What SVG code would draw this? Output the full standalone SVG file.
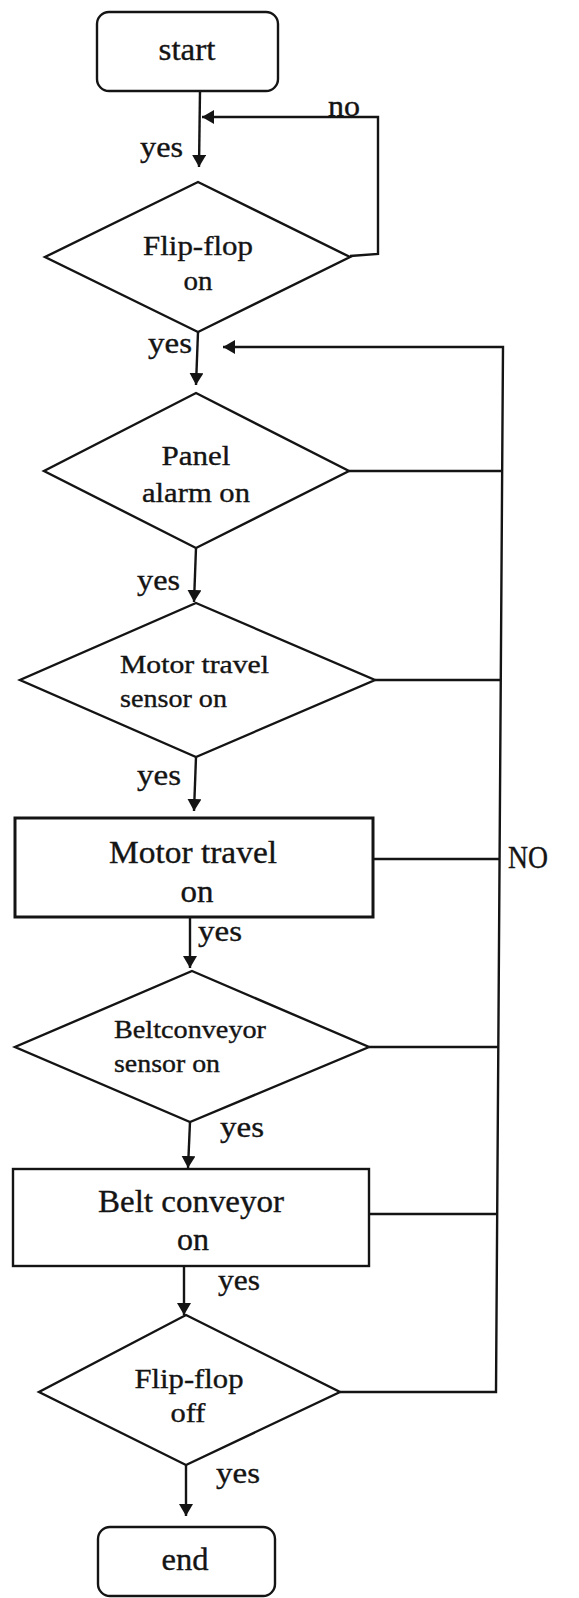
<svg xmlns="http://www.w3.org/2000/svg" width="579" height="1598" viewBox="0 0 579 1598">
  <defs>
    <style>
      .shape { fill: #ffffff; stroke: #141414; stroke-width: 2.4; stroke-linejoin: miter; }
      .box { stroke-width: 3; }
      .conn { fill: none; stroke: #141414; stroke-width: 2.4; }
      .t { font-family: "Liberation Serif", "Times New Roman", serif; fill: #141414; stroke: #141414; stroke-width: 0.35; }
      .lbl { font-size: 28px; }
      .big { font-size: 32px; }
      .yes { font-size: 30px; }
      .sm { font-size: 25px; }
      .mid { text-anchor: middle; }
    </style>
    <marker id="arrow" viewBox="0 0 12 14" refX="12" refY="7" markerWidth="12" markerHeight="14" markerUnits="userSpaceOnUse" orient="auto">
      <path d="M0,0 L12,7 L0,14 z" fill="#141414"/>
    </marker>
  </defs>

  <rect width="579" height="1598" fill="#ffffff"/>

  <!-- connectors -->
  <g id="connectors">
    <line class="conn" x1="200" y1="91" x2="199" y2="167" marker-end="url(#arrow)"/>
    <polyline class="conn" points="350,256 378,254 378,117 202,117" marker-end="url(#arrow)"/>
    <line class="conn" x1="198" y1="332" x2="196" y2="385" marker-end="url(#arrow)"/>
    <polyline class="conn" points="340,1392 496,1392 503,347 223,347" marker-end="url(#arrow)"/>
    <line class="conn" x1="349" y1="471" x2="502" y2="471"/>
    <line class="conn" x1="375" y1="680" x2="501" y2="680"/>
    <line class="conn" x1="374" y1="859" x2="500" y2="859"/>
    <line class="conn" x1="369" y1="1047" x2="498" y2="1047"/>
    <line class="conn" x1="369" y1="1214" x2="497" y2="1214"/>
    <line class="conn" x1="196" y1="548" x2="194" y2="602" marker-end="url(#arrow)"/>
    <line class="conn" x1="196" y1="757" x2="194" y2="811" marker-end="url(#arrow)"/>
    <line class="conn" x1="190" y1="917" x2="190" y2="968" marker-end="url(#arrow)"/>
    <line class="conn" x1="190" y1="1122" x2="188" y2="1168" marker-end="url(#arrow)"/>
    <line class="conn" x1="184" y1="1266" x2="184" y2="1315" marker-end="url(#arrow)"/>
    <line class="conn" x1="186" y1="1465" x2="186" y2="1516" marker-end="url(#arrow)"/>
  </g>

  <!-- branch labels -->
  <g id="labels">
    <text class="t yes" x="140" y="157" textLength="43" lengthAdjust="spacingAndGlyphs">yes</text>
    <text class="t yes" x="328" y="116" textLength="32" lengthAdjust="spacingAndGlyphs">no</text>
    <text class="t yes" x="148" y="353" textLength="44" lengthAdjust="spacingAndGlyphs">yes</text>
    <text class="t yes" x="137" y="590" textLength="43" lengthAdjust="spacingAndGlyphs">yes</text>
    <text class="t yes" x="137" y="785" textLength="44" lengthAdjust="spacingAndGlyphs">yes</text>
    <text class="t yes" x="198" y="941" textLength="44" lengthAdjust="spacingAndGlyphs">yes</text>
    <text class="t yes" x="220" y="1137" textLength="44" lengthAdjust="spacingAndGlyphs">yes</text>
    <text class="t yes" x="218" y="1290" textLength="42" lengthAdjust="spacingAndGlyphs">yes</text>
    <text class="t yes" x="216" y="1483" textLength="44" lengthAdjust="spacingAndGlyphs">yes</text>
    <text class="t big" x="508" y="868" textLength="40" lengthAdjust="spacingAndGlyphs">NO</text>
  </g>

  <g id="start">
    <rect class="shape" x="97" y="12" width="181" height="79" rx="12"/>
    <text class="t big mid" x="187" y="60" textLength="57" lengthAdjust="spacingAndGlyphs">start</text>
  </g>

  <g id="flipflop-on">
    <polygon class="shape" points="198,182 350,257 198,332 45,257"/>
    <text class="t lbl mid" x="198" y="255" textLength="110" lengthAdjust="spacingAndGlyphs">Flip-flop</text>
    <text class="t lbl mid" x="198" y="290" textLength="29" lengthAdjust="spacingAndGlyphs">on</text>
  </g>

  <g id="panel-alarm">
    <polygon class="shape" points="196,393 349,471 196,548 44,471"/>
    <text class="t lbl mid" x="196" y="465" textLength="69" lengthAdjust="spacingAndGlyphs">Panel</text>
    <text class="t lbl mid" x="196" y="502" textLength="108" lengthAdjust="spacingAndGlyphs">alarm on</text>
  </g>

  <g id="motor-sensor">
    <polygon class="shape" points="196,603 375,680 196,757 20,680"/>
    <text class="t sm" x="120" y="673" textLength="149" lengthAdjust="spacingAndGlyphs">Motor travel</text>
    <text class="t sm" x="120" y="707" textLength="107" lengthAdjust="spacingAndGlyphs">sensor on</text>
  </g>

  <g id="motor-travel">
    <rect class="shape box" x="15" y="818" width="358" height="99"/>
    <text class="t big mid" x="193" y="863" textLength="168" lengthAdjust="spacingAndGlyphs">Motor travel</text>
    <text class="t big mid" x="197" y="902" textLength="33" lengthAdjust="spacingAndGlyphs">on</text>
  </g>

  <g id="belt-sensor">
    <polygon class="shape" points="192,971 369,1047 190,1122 15,1047"/>
    <text class="t sm" x="114" y="1038" textLength="152" lengthAdjust="spacingAndGlyphs">Beltconveyor</text>
    <text class="t sm" x="114" y="1072" textLength="106" lengthAdjust="spacingAndGlyphs">sensor on</text>
  </g>

  <g id="belt-conveyor">
    <rect class="shape" x="13" y="1169" width="356" height="97"/>
    <text class="t big mid" x="191" y="1212" textLength="186" lengthAdjust="spacingAndGlyphs">Belt conveyor</text>
    <text class="t big mid" x="193" y="1250" textLength="32" lengthAdjust="spacingAndGlyphs">on</text>
  </g>

  <g id="flipflop-off">
    <polygon class="shape" points="186,1315 340,1392 186,1465 39,1392"/>
    <text class="t lbl mid" x="189" y="1388" textLength="109" lengthAdjust="spacingAndGlyphs">Flip-flop</text>
    <text class="t lbl mid" x="188" y="1422" textLength="35" lengthAdjust="spacingAndGlyphs">off</text>
  </g>

  <g id="end">
    <rect class="shape" x="98" y="1527" width="177" height="69" rx="12"/>
    <text class="t big mid" x="185" y="1570" textLength="47" lengthAdjust="spacingAndGlyphs">end</text>
  </g>
</svg>
